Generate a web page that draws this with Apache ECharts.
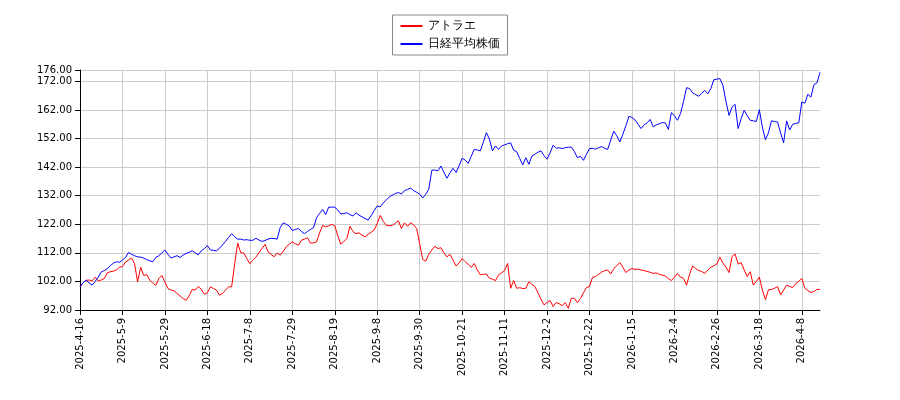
<!DOCTYPE html>
<html><head><meta charset="utf-8">
<script src="https://cdn.jsdelivr.net/npm/echarts@6/dist/echarts.min.js"></script>
<style>html,body{margin:0;padding:0;background:#fff}#c{width:900px;height:400px}</style>
</head><body><div id="c"></div>
<script>
const startDate = '2025-04-16';
const pointCount = 245;
const holidays = ['2025-04-29','2025-05-05','2025-05-06','2025-07-21','2025-08-11','2025-09-15','2025-09-23','2025-10-13','2025-11-03','2025-11-24','2025-12-31','2026-01-01','2026-01-02','2026-01-12','2026-02-11','2026-02-23','2026-03-20'];
const seriesNames = ['アトラエ','日経平均株価'];
const nikkei = [100.1,101.5,102.4,101.5,100.7,102,103.5,105.3,105.8,106.4,107.5,108.4,108.9,108.7,109.5,110.4,112.1,111.5,111,110.6,110.5,110.2,109.6,109.2,108.9,110.4,111,112,113,111.5,110.2,110.6,111,110.4,111.2,111.8,112.2,112.7,112,111.3,112.7,113.5,114.5,113,112.9,112.7,113.6,114.8,116,117.4,118.7,117.6,116.8,116.8,116.5,116.6,116.4,116.4,117.1,116.5,116,116.3,116.8,117.1,117,116.8,120.8,122.5,122,121.4,119.8,120.2,120.5,119.5,118.7,119.5,120.2,120.8,124.3,125.8,127.2,125.4,128,128,128,127,125.6,125.8,126,125.4,124.9,126,125.2,124.6,124,123.5,125,126.8,128.4,128.1,129.5,130.5,131.6,132.2,132.8,133.1,132.6,133.8,134.2,134.7,133.8,133.2,132.6,131.2,132.5,134.3,140.9,141,140.7,142.4,140.2,138.1,140,141.6,140.1,142.5,145.1,144.5,143.3,145.8,148.2,148,147.7,150.7,154.1,151.8,147.7,149.4,148.2,149.4,149.8,150.2,150.5,147.9,147.4,145,142.8,145.3,143,145.9,146.5,147.2,147.7,146,144.8,147,149.7,148.6,148.8,148.5,148.8,149,149,147.5,145.3,145.8,144.4,146.5,148.5,148.6,148.3,148.8,149.2,148.6,148.2,151.5,154.6,153,150.8,153.5,156.5,159.8,159.4,158.5,157,155.5,156.8,157.5,158.7,156.1,156.8,157.2,157.6,157.5,155.2,161.1,160,158.4,160.7,165,169.8,169.5,168,167.4,166.8,167.8,168.9,167.7,169.5,172.6,172.8,173,170.6,165,160.1,163,164,155.5,159,161.9,160,158.4,158.2,158,162.1,156,151.6,154,158.2,158,157.8,154,150.5,158.2,155,157,157.3,157.5,164.8,164.4,167.5,166.5,170.9,171.5,175.2];
const atrae = [100.1,101.5,102.4,102.5,102.2,103.5,102.2,102.5,103,105,105.4,105.6,106,107,107.2,108.8,109.5,110.2,108.2,101.8,107,104.1,104.4,102.4,101.5,100.6,103,104.1,101.8,99.5,99,98.7,97.8,96.9,96,95.4,97,99.2,99,100.3,99.2,97.5,98,100.1,99.5,99,97.2,97.8,99,100.1,100.1,108.2,115.4,112,112,110,108.2,109.4,110.5,112,113.5,115,112.3,111.5,110.6,112,111.2,112.5,114.1,115,115.8,115.2,114.7,116.4,116.8,117.3,115.4,115.5,115.8,119,121.6,121.1,121.5,122,121.5,118,115,116,117,121.3,119.5,118.7,119,118.2,117.6,118.5,119.2,120,122.3,125.1,123,121.6,121.5,121.6,122.4,123.2,120.5,122.5,121.3,122.5,121.8,120.5,115.2,109.7,109.1,111.5,113,114.3,113.5,113.8,112,110.6,111.5,109.5,107.4,108.5,110,108.9,108,106.9,108.3,106,104.3,104.5,104.6,103.1,102.8,102.3,104.3,105,105.8,108.3,99.6,102.3,99.6,99.8,99.5,99.6,101.9,101,100.2,98,95.8,93.8,94.6,95.3,93.2,94.6,94.2,93.5,94.6,92.6,96.1,96.1,94.6,96,98,99.9,100.2,103.5,103.7,104.5,105.3,105.8,106,104.6,106.5,107.5,108.6,107,105.1,106,106.5,106.2,106.3,106,105.8,105.5,105.2,104.8,105,104.5,104.2,103.9,103,102.3,103.5,104.8,103.5,103.1,100.7,104.5,107.4,106.5,105.8,105.5,104.8,106,107,107.5,108.1,110.5,108.4,107,105.1,110.7,111.6,108.1,108.6,106,103.7,105.4,100.7,102,103.5,99,95.6,99.1,99.2,99.6,100.2,97.3,99,100.7,100.2,99.9,101.3,102,103.1,99.6,98.8,98.1,98.5,99.2,99.2];

const dates = [];
{
  const d = new Date(startDate + 'T00:00:00Z');
  while (dates.length < pointCount) {
    const iso = d.toISOString().slice(0,10);
    const wd = d.getUTCDay();
    if (wd !== 0 && wd !== 6 && !holidays.includes(iso)) {
      dates.push(d.getUTCFullYear() + '-' + (d.getUTCMonth()+1) + '-' + d.getUTCDate());
    }
    d.setUTCDate(d.getUTCDate()+1);
  }
}
const chart = echarts.init(document.getElementById('c'));
const ff = 'DejaVu Sans';
chart.setOption({
  animation:false,
  textStyle:{fontFamily:ff},
  legend:{top:15,left:'center',orient:'vertical',itemWidth:22,itemHeight:2,itemGap:6,
    borderColor:'#888',borderWidth:1,borderRadius:0,padding:[5,8,5,8],
    textStyle:{fontSize:12,color:'#000',fontFamily:ff},
    data:seriesNames.map(n=>({name:n,icon:'rect'}))},
  grid:{left:80,right:80,top:70,bottom:90},
  xAxis:{type:'category',data:dates,boundaryGap:false,
    axisLine:{lineStyle:{color:'#000'}},
    axisTick:{interval:13,lineStyle:{color:'#000'}},
    axisLabel:{interval:13,rotate:90,fontSize:10,color:'#000',fontFamily:ff},
    splitLine:{show:true,interval:13,lineStyle:{color:'#ccc'}}},
  yAxis:{type:'value',min:92,max:176,interval:10,
    axisLine:{show:true,lineStyle:{color:'#000'}},
    axisTick:{show:true,lineStyle:{color:'#000'}},
    axisLabel:{fontSize:10,color:'#000',fontFamily:ff,formatter:v=>v.toFixed(2)},
    splitLine:{lineStyle:{color:'#ccc'}}},
  series:[
    {name:seriesNames[0],type:'line',data:atrae,symbol:'none',lineStyle:{width:1,color:'#f00'},itemStyle:{color:'#f00'}},
    {name:seriesNames[1],type:'line',data:nikkei,symbol:'none',lineStyle:{width:1,color:'#00f'},itemStyle:{color:'#00f'}}
  ]
});
</script></body></html>
